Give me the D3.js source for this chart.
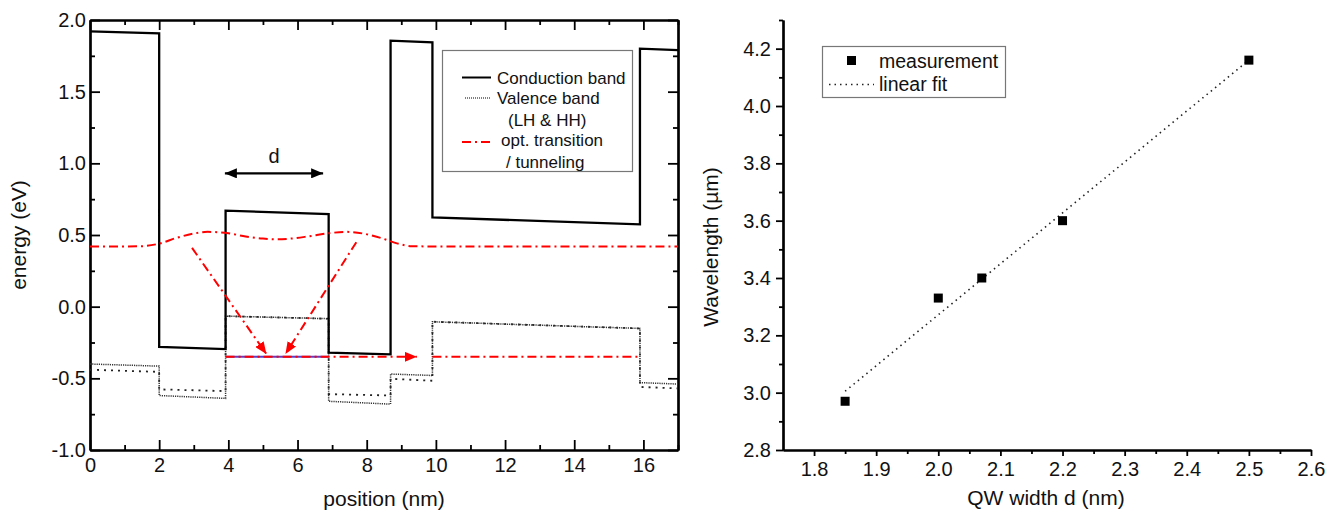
<!DOCTYPE html>
<html>
<head>
<meta charset="utf-8">
<script src="https://cdn.jsdelivr.net/npm/d3@7"></script>
<style>
  body { margin: 0; background: #fff; }
  svg { font-family: "Liberation Sans", Arial, sans-serif; }
  .axis path, .axis line { stroke: #000; }
  .axis text { font-size: 20px; fill: #111; font-family: "Liberation Sans", Arial, sans-serif; }
</style>
</head>
<body>
<script>
const width = 1333;
const height = 513;

// ---- left panel: band diagram ----
const bandPos = [0, 2, 2, 3.92, 3.92, 6.9, 6.9, 8.69, 8.69, 9.9, 9.9, 15.9, 15.9, 17];
const conductionBand = [1.92, 1.907, -0.28, -0.296, 0.67, 0.646, -0.32, -0.333, 1.856, 1.844, 0.623, 0.574, 1.80, 1.79];
const valenceFine = [-0.40, -0.415, -0.62, -0.64, -0.066, -0.084, -0.66, -0.68, -0.47, -0.48, -0.105, -0.152, -0.53, -0.54];
const valenceSparse = [-0.44, -0.455, -0.577, -0.589, -0.066, -0.084, -0.61, -0.62, -0.503, -0.517, -0.105, -0.152, -0.56, -0.57];

const wavePos = [0, 1, 1.5, 2, 2.5, 3, 3.4, 4, 4.5, 5, 5.4, 5.8, 6.3, 6.9, 7.4, 7.9, 8.4, 8.9, 9.3, 10, 17];
const waveEnergy = [0.42, 0.42, 0.422, 0.44, 0.48, 0.51, 0.522, 0.512, 0.49, 0.475, 0.47, 0.475, 0.49, 0.512, 0.522, 0.51, 0.48, 0.44, 0.422, 0.42, 0.42];

// optical transitions: [x0, y0, x1, y1]
const transitions = [[2.95, 0.41, 5.1, -0.33], [7.7, 0.45, 5.65, -0.33]];
const tunnelPos = [[3.92, 9.45], [9.9, 15.9]];
const tunnelEnergy = -0.35;
const widthArrow = [3.9, 6.74, 0.93];

const xTicksL = [0, 2, 4, 6, 8, 10, 12, 14, 16];
const yTicksL = [-1, -0.5, 0, 0.5, 1, 1.5, 2];

// ---- right panel: wavelength vs QW width ----
const qwWidth = [1.85, 2.0, 2.07, 2.2, 2.5];
const wavelength = [2.97, 3.33, 3.40, 3.60, 4.16];
const xTicksR = [1.8, 1.9, 2.0, 2.1, 2.2, 2.3, 2.4, 2.5, 2.6];
const yTicksR = [2.8, 3.0, 3.2, 3.4, 3.6, 3.8, 4.0, 4.2];

const svg = d3.select('body').append('svg')
  .attr('width', width)
  .attr('height', height);

const defs = svg.append('defs');
function marker(id, color) {
  defs.append('marker')
    .attr('id', id)
    .attr('viewBox', '0 0 12 10')
    .attr('refX', 12).attr('refY', 5)
    .attr('markerWidth', 12).attr('markerHeight', 10)
    .attr('markerUnits', 'userSpaceOnUse')
    .attr('orient', 'auto-start-reverse')
    .append('path')
    .attr('d', 'M0,0 L12,5 L0,10 Z')
    .attr('fill', color);
}
marker('arrRed', '#ff0000');
marker('arrBlack', '#000');

const xL = d3.scaleLinear().domain([0, 17]).range([90, 678]);
const yL = d3.scaleLinear().domain([-1, 2]).range([450, 20]);

function styleAxis(g, w) {
  g.attr('class', 'axis');
  g.select('.domain').attr('stroke-width', w || 2.2);
  g.selectAll('.tick line').attr('stroke-width', 1.8);
}
const fmt1 = d => d.toFixed(1);
const odd = [1, 3, 5, 7, 9, 11, 13, 15, 17];
const quarter = [-0.75, -0.25, 0.25, 0.75, 1.25, 1.75];

// minor ticks first
[[d3.axisBottom(xL).tickValues(odd), 'translate(0,450)'],
 [d3.axisTop(xL).tickValues(odd), 'translate(0,20)'],
 [d3.axisLeft(yL).tickValues(quarter), 'translate(90,0)'],
 [d3.axisRight(yL).tickValues(quarter), 'translate(678,0)']].forEach(function (a) {
  const g = svg.append('g').attr('transform', a[1])
    .call(a[0].tickSizeInner(-5).tickSizeOuter(0).tickFormat(''));
  styleAxis(g);
});

const gxL = svg.append('g').attr('transform', 'translate(0,450)')
  .call(d3.axisBottom(xL).tickValues(xTicksL).tickSizeInner(-10).tickSizeOuter(0).tickPadding(8));
styleAxis(gxL);
const gxLt = svg.append('g').attr('transform', 'translate(0,20)')
  .call(d3.axisTop(xL).tickValues(xTicksL).tickSizeInner(-10).tickSizeOuter(0).tickFormat(''));
styleAxis(gxLt);
const gyL = svg.append('g').attr('transform', 'translate(90,0)')
  .call(d3.axisLeft(yL).tickValues(yTicksL).tickSizeInner(-10).tickSizeOuter(0).tickPadding(4).tickFormat(fmt1));
styleAxis(gyL);
const gyLr = svg.append('g').attr('transform', 'translate(678,0)')
  .call(d3.axisRight(yL).tickValues(yTicksL).tickSizeInner(-10).tickSizeOuter(0).tickFormat(''));
styleAxis(gyLr);

const lineL = d3.line().x(d => xL(d[0])).y(d => yL(d[1]));

// valence bands
svg.append('path')
  .attr('d', lineL(bandPos.map((x, i) => [x, valenceSparse[i]])))
  .attr('fill', 'none').attr('stroke', '#222').attr('stroke-width', 1.8)
  .attr('stroke-dasharray', '2,5');
svg.append('path')
  .attr('d', lineL(bandPos.map((x, i) => [x, valenceFine[i]])))
  .attr('fill', 'none').attr('stroke', '#333').attr('stroke-width', 1.5)
  .attr('stroke-dasharray', '1.2,1');

// conduction band
svg.append('path')
  .attr('d', lineL(bandPos.map((x, i) => [x, conductionBand[i]])))
  .attr('fill', 'none').attr('stroke', '#000').attr('stroke-width', 2.3);

// wave / level
svg.append('path')
  .attr('d', d3.line().curve(d3.curveMonotoneX).x(d => xL(d[0])).y(d => yL(d[1]))(wavePos.map((x, i) => [x, waveEnergy[i]])))
  .attr('fill', 'none').attr('stroke', '#ff0000').attr('stroke-width', 2)
  .attr('stroke-dasharray', '9,4,2,4');

// blue level under the red one inside the well
svg.append('line')
  .attr('x1', xL(tunnelPos[0][0])).attr('x2', xL(6.9))
  .attr('y1', yL(tunnelEnergy)).attr('y2', yL(tunnelEnergy))
  .attr('stroke', '#5a3fc8').attr('stroke-width', 2);

tunnelPos.forEach(function (p, i) {
  svg.append('line')
    .attr('x1', xL(p[0])).attr('x2', xL(p[1]))
    .attr('y1', yL(tunnelEnergy)).attr('y2', yL(tunnelEnergy))
    .attr('stroke', '#ff0000').attr('stroke-width', 2)
    .attr('stroke-dasharray', '9,4,2,4')
    .attr('marker-end', i === 0 ? 'url(#arrRed)' : null);
});

transitions.forEach(function (t) {
  svg.append('line')
    .attr('x1', xL(t[0])).attr('y1', yL(t[1]))
    .attr('x2', xL(t[2])).attr('y2', yL(t[3]))
    .attr('stroke', '#ff0000').attr('stroke-width', 2)
    .attr('stroke-dasharray', '9,4,2,4')
    .attr('marker-end', 'url(#arrRed)');
});

// width arrow "d"
svg.append('line')
  .attr('x1', xL(widthArrow[0])).attr('x2', xL(widthArrow[1]))
  .attr('y1', yL(widthArrow[2])).attr('y2', yL(widthArrow[2]))
  .attr('stroke', '#000').attr('stroke-width', 2.2)
  .attr('marker-start', 'url(#arrBlack)').attr('marker-end', 'url(#arrBlack)');
svg.append('text')
  .attr('x', xL((widthArrow[0] + widthArrow[1]) / 2)).attr('y', yL(1.0))
  .attr('text-anchor', 'middle').attr('font-size', 20).attr('fill', '#111').text('d');

// left legend
const legL = svg.append('g');
legL.append('rect').attr('x', 442.5).attr('y', 50.5).attr('width', 190).attr('height', 121)
  .attr('fill', '#fff').attr('stroke', '#777').attr('stroke-width', 1.2);
legL.append('line').attr('x1', 462).attr('x2', 491).attr('y1', 77.5).attr('y2', 77.5)
  .attr('stroke', '#000').attr('stroke-width', 2);
legL.append('line').attr('x1', 465).attr('x2', 490).attr('y1', 98).attr('y2', 98)
  .attr('stroke', '#555').attr('stroke-width', 1.3).attr('stroke-dasharray', '1,1');
legL.append('line').attr('x1', 462).attr('x2', 491).attr('y1', 142).attr('y2', 142)
  .attr('stroke', '#ff0000').attr('stroke-width', 2).attr('stroke-dasharray', '9,4,2,4');
[['Conduction band', 497, 83.5], ['Valence band', 497, 104], ['(LH & HH)', 508, 125.5],
 ['opt. transition', 501, 146], ['/ tunneling', 506, 168]].forEach(function (t) {
  legL.append('text').attr('x', t[1]).attr('y', t[2]).attr('font-size', 17).attr('fill', '#111').text(t[0]);
});

// axis titles left
svg.append('text').attr('transform', 'translate(26,235) rotate(-90)')
  .attr('text-anchor', 'middle').attr('font-size', 21).attr('fill', '#111').text('energy (eV)');
svg.append('text').attr('x', 384).attr('y', 506)
  .attr('text-anchor', 'middle').attr('font-size', 21).attr('fill', '#111').text('position (nm)');

// ---- right panel ----
const xR = d3.scaleLinear().domain([1.75, 2.6]).range([783, 1311]);
const yR = d3.scaleLinear().domain([2.8, 4.3]).range([450, 20]);

const minorX = d3.range(1.85, 2.6, 0.1).map(v => +v.toFixed(2));
const minorY = d3.range(2.9, 4.35, 0.2).map(v => +v.toFixed(2));

const gxRm = svg.append('g').attr('transform', 'translate(0,450)')
  .call(d3.axisBottom(xR).tickValues(minorX).tickSizeInner(4).tickSizeOuter(0).tickFormat(''));
styleAxis(gxRm);
const gyRm = svg.append('g').attr('transform', 'translate(783,0)')
  .call(d3.axisLeft(yR).tickValues(minorY).tickSizeInner(4).tickSizeOuter(0).tickFormat(''));
styleAxis(gyRm);
const gxR = svg.append('g').attr('transform', 'translate(0,450)')
  .call(d3.axisBottom(xR).tickValues(xTicksR).tickSizeInner(6).tickSizeOuter(0).tickPadding(6).tickFormat(fmt1));
styleAxis(gxR);
const gyR = svg.append('g').attr('transform', 'translate(783,0)')
  .call(d3.axisLeft(yR).tickValues(yTicksR).tickSizeInner(7).tickSizeOuter(0).tickPadding(5).tickFormat(fmt1));
styleAxis(gyR);

// linear fit (least squares on the measured points)
const mx = d3.mean(qwWidth);
const my = d3.mean(wavelength);
const sxy = d3.sum(qwWidth, (x, i) => (x - mx) * (wavelength[i] - my));
const sxx = d3.sum(qwWidth, x => (x - mx) * (x - mx));
const slope = sxy / sxx;
const intercept = my - slope * mx;
const fitX = d3.extent(qwWidth);

svg.append('line')
  .attr('x1', xR(fitX[0])).attr('y1', yR(intercept + slope * fitX[0]))
  .attr('x2', xR(fitX[1])).attr('y2', yR(intercept + slope * fitX[1]))
  .attr('stroke', '#222').attr('stroke-width', 1.6).attr('stroke-dasharray', '1.5,4');

svg.selectAll('.pt')
  .data(qwWidth)
  .enter()
  .append('rect')
  .attr('class', 'pt')
  .attr('x', d => xR(d) - 4.5)
  .attr('y', (d, i) => yR(wavelength[i]) - 4.5)
  .attr('width', 9).attr('height', 9)
  .attr('fill', '#000');

// right legend
const legR = svg.append('g');
legR.append('rect').attr('x', 822.5).attr('y', 46.5).attr('width', 183).attr('height', 51)
  .attr('fill', '#fff').attr('stroke', '#777').attr('stroke-width', 1.2);
legR.append('rect').attr('x', 847).attr('y', 56).attr('width', 9).attr('height', 9).attr('fill', '#000');
legR.append('line').attr('x1', 829).attr('x2', 874).attr('y1', 84.5).attr('y2', 84.5)
  .attr('stroke', '#222').attr('stroke-width', 1.5).attr('stroke-dasharray', '1.5,4');
legR.append('text').attr('x', 879).attr('y', 67.5).attr('font-size', 19.5).attr('fill', '#111').text('measurement');
legR.append('text').attr('x', 879).attr('y', 91).attr('font-size', 19.5).attr('fill', '#111').text('linear fit');

svg.append('text').attr('transform', 'translate(718,247) rotate(-90)')
  .attr('text-anchor', 'middle').attr('font-size', 21).attr('fill', '#111').text('Wavelength (µm)');
svg.append('text').attr('x', 1046).attr('y', 505)
  .attr('text-anchor', 'middle').attr('font-size', 21).attr('fill', '#111').text('QW width d (nm)');
</script>
</body>
</html>
